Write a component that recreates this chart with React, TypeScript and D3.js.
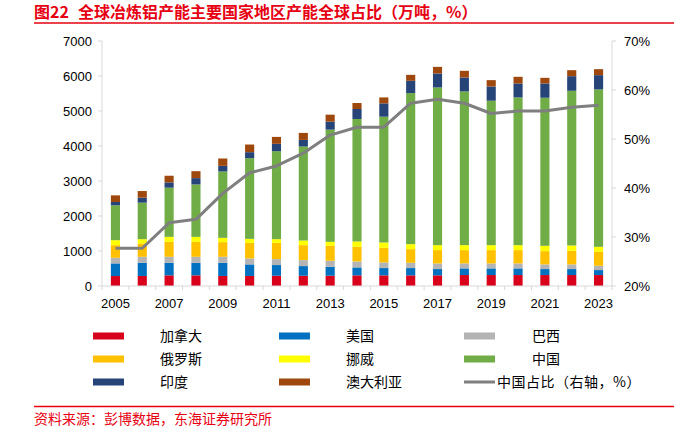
import React from "react";
import * as d3 from "d3";

const years = ["2005","2006","2007","2008","2009","2010","2011","2012","2013","2014","2015","2016","2017","2018","2019","2020","2021","2022","2023"];
const canada = [285,287,304,304,287,287,294,294,294,304,304,304,304,313,313,313,313,313,313];
const usa = [361,377,360,360,377,330,304,275,256,227,208,208,180,190,190,190,171,171,142];
const brazil = [160,171,171,171,171,171,171,171,171,171,162,152,161,142,142,142,133,133,123];
const russia = [361,380,427,427,418,445,464,427,427,418,417,389,380,380,380,380,379,388,399];
const norway = [142,123,142,142,123,114,105,133,114,152,152,142,142,142,142,142,152,153,143];
const china = [996,1043,1405,1496,1896,2305,2514,2685,3206,3500,3595,4317,4506,4392,4127,4221,4231,4420,4496];
const india = [95,143,151,182,161,171,210,189,228,285,379,350,398,398,406,398,407,417,408];
const australia = [190,189,190,199,210,219,198,200,199,171,171,171,190,191,182,191,162,172,171];
const chinaShare = [27.7,27.7,32.9,33.6,38.9,43.1,44.5,47.1,50.8,52.4,52.4,57.3,58.1,57.3,55.2,55.7,55.7,56.5,56.9];

const leftTicks = [0,1000,2000,3000,4000,5000,6000,7000];
const rightTicks = [20,30,40,50,60,70];
const yearLabels = ["2005","2007","2009","2011","2013","2015","2017","2019","2021","2023"];

const seriesNames = ["加拿大","美国","巴西","俄罗斯","挪威","中国","印度","澳大利亚"];
const seriesData = [canada, usa, brazil, russia, norway, china, india, australia];
const seriesColors = ["#d9001b","#0070c0","#b4b4b4","#ffc000","#ffff00","#70ad47","#264478","#9e480e"];
const lineName = "中国占比（右轴，%）";
const titleNum = "图22";
const title = "全球冶炼铝产能主要国家地区产能全球占比（万吨，%）";
const source = "资料来源：彭博数据，东海证券研究所";

const W = 674, H = 429;
const M = { left: 102, right: 612, top: 41, bottom: 286 };
const RED = "#e60012";
const AXIS = "#d9d9d9";
const latin = "'Liberation Sans', Arial, sans-serif";
const cjk = "'Noto Sans CJK SC', sans-serif";

export default function App() {
  const x = d3.scaleBand<string>().domain(years).range([M.left, M.right]).paddingInner(0.66).paddingOuter(0.33);
  const band = d3.scaleBand<string>().domain(years).range([M.left, M.right]).padding(0);
  const y = d3.scaleLinear().domain([0, 7000]).range([M.bottom, M.top]);
  const y2 = d3.scaleLinear().domain([20, 70]).range([M.bottom, M.top]);

  const rows = years.map((yr, i) => {
    const r: any = { year: yr };
    seriesNames.forEach((n, k) => (r[n] = seriesData[k][i]));
    return r;
  });
  const stacked = d3.stack<any>().keys(seriesNames)(rows);

  const line = d3.line<number>()
    .x((_, i) => (band(years[i]) as number) + band.bandwidth() / 2)
    .y((d) => y2(d));

  const bw = x.bandwidth();

  const legendCols = [
    { sx: 93, tx: 160 },
    { sx: 279, tx: 346 },
    { sx: 464, tx: 532 },
  ];
  const legendRows = [336, 359, 382];

  return (
    <svg width={W} height={H} style={{ position: "absolute", left: 0, top: 0, background: "#fff" }}>
      <rect x={0} y={0} width={W} height={H} fill="#fff" />
      <text x={34} y={18} fill={RED} fontFamily={cjk} fontWeight="bold" fontSize={16}>{titleNum}</text>
      <text x={78} y={18} fill={RED} fontFamily={cjk} fontWeight="bold" fontSize={16}>{title}</text>
      <line x1={34} x2={W} y1={23} y2={23} stroke={RED} strokeWidth={1.5} />

      {/* bars */}
      {stacked.map((s, k) => (
        <g key={k} fill={seriesColors[k]}>
          {s.map((d, i) => (
            <rect key={i} x={x(years[i])} y={y(d[1])} width={bw} height={Math.max(0, y(d[0]) - y(d[1]))} />
          ))}
        </g>
      ))}

      {/* line */}
      <path d={line(chinaShare) || ""} fill="none" stroke="#7f7f7f" strokeWidth={3} strokeLinejoin="round" />

      {/* left axis */}
      <line x1={M.left} x2={M.left} y1={M.top} y2={M.bottom} stroke={AXIS} />
      {leftTicks.map((t) => (
        <g key={t}>
          <line x1={M.left - 4} x2={M.left} y1={y(t)} y2={y(t)} stroke={AXIS} />
          <text x={M.left - 10} y={y(t)} dy="0.35em" textAnchor="end" fontFamily={latin} fontSize={13} fill="#000">{t}</text>
        </g>
      ))}
      {/* right axis */}
      <line x1={M.right} x2={M.right} y1={M.top} y2={M.bottom} stroke={AXIS} />
      {rightTicks.map((t) => (
        <g key={t}>
          <line x1={M.right} x2={M.right + 4} y1={y2(t)} y2={y2(t)} stroke={AXIS} />
          <text x={M.right + 12} y={y2(t)} dy="0.35em" textAnchor="start" fontFamily={latin} fontSize={13} fill="#000">{t}%</text>
        </g>
      ))}
      {/* x axis */}
      <line x1={M.left} x2={M.right} y1={M.bottom} y2={M.bottom} stroke={AXIS} />
      {years.map((yr) => (
        <line key={yr} x1={band(yr)} x2={band(yr)} y1={M.bottom} y2={M.bottom + 4} stroke={AXIS} />
      ))}
      <line x1={M.right} x2={M.right} y1={M.bottom} y2={M.bottom + 4} stroke={AXIS} />
      {yearLabels.map((yr) => (
        <text key={yr} x={(band(yr) as number) + band.bandwidth() / 2} y={M.bottom + 17} dy="0.35em" textAnchor="middle" fontFamily={latin} fontSize={13} fill="#000">{yr}</text>
      ))}

      {/* legend */}
      {seriesNames.map((n, k) => {
        const c = legendCols[k % 3];
        const r = legendRows[Math.floor(k / 3)];
        return (
          <g key={n}>
            <rect x={c.sx} y={r - 3.5} width={31} height={7} fill={seriesColors[k]} />
            <text x={c.tx} y={r} dy="0.35em" fontFamily={cjk} fontSize={14} fill="#000">{n}</text>
          </g>
        );
      })}
      <line x1={464} x2={495} y1={legendRows[2]} y2={legendRows[2]} stroke="#7f7f7f" strokeWidth={3} />
      <text x={497} y={legendRows[2]} dy="0.35em" fontFamily={cjk} fontSize={14} letterSpacing={0.5} fill="#000">{lineName}</text>

      <line x1={34} x2={W} y1={406.5} y2={406.5} stroke={RED} strokeWidth={1.5} />
      <text x={34} y={419} dy="0.35em" fill={RED} fontFamily={cjk} fontSize={14}>{source}</text>
    </svg>
  );
}
